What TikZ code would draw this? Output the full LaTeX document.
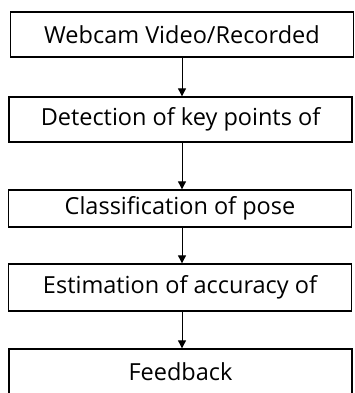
\documentclass[tikz,border=0pt]{standalone}
\usepackage{fontspec}
\setmainfont{Open Sans}
\usetikzlibrary{arrows.meta}
\tikzset{
  box/.style={draw, line width=1.3pt, minimum width=343pt, inner sep=0pt,
    font=\fontsize{23.5}{28}\selectfont},
  flow/.style={-{Triangle[width=8pt,length=8pt]}, line width=0.9pt}
}
\begin{document}
\begin{tikzpicture}[x=1pt,y=1pt]
  \useasboundingbox (0,0) rectangle (355,-393);
  \clip (0,0) rectangle (355,-393);

  % boxes
  \node[box, minimum height=45pt] (cam) at (182,-34.5) {Webcam Video/Recorded};
  \node[box, minimum height=45pt] (kps) at (180.5,-119.5) {Detection of key points of};
  \node[box, minimum height=37pt] (cls) at (180,-208.5) {Classification of pose};
  \node[box, minimum height=47pt] (acc) at (180,-287.5) {Estimation of accuracy of};
  \node[box, minimum height=46pt] (fbk) at (180.5,-372) {Feedback};

  % arrows
  \draw[flow] (cam.south -| 182,0) -- (kps.north -| 182,0);
  \draw[flow] (kps.south -| 182,0) -- (cls.north -| 182,0);
  \draw[flow] (cls.south -| 182,0) -- (acc.north -| 182,0);
  \draw[flow] (acc.south -| 182,0) -- (fbk.north -| 182,0);
\end{tikzpicture}
\end{document}
